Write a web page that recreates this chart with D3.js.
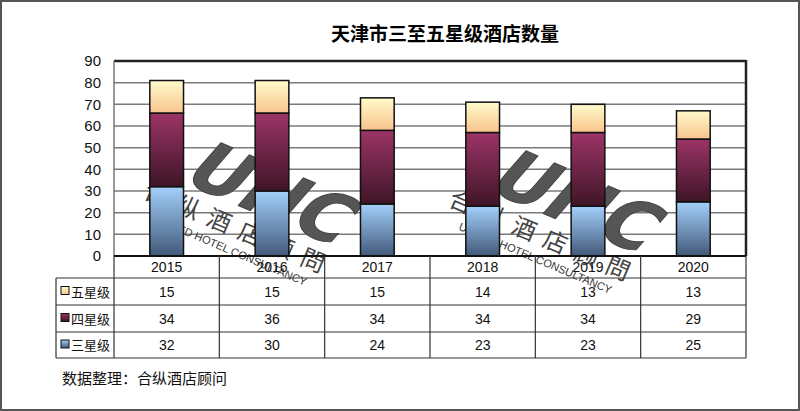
<!DOCTYPE html>
<html>
<head>
<meta charset="utf-8">
<script src="https://cdn.jsdelivr.net/npm/d3@7/dist/d3.min.js"></script>
<style>
  html, body { margin: 0; padding: 0; background: #fff; }
  svg { display: block; font-family: "Noto Sans CJK SC", "Noto Sans", sans-serif; }
</style>
</head>
<body>
<div id="chart"></div>
<script>
// 数据
var years = ["2015", "2016", "2017", "2018", "2019", "2020"];
var star3 = [32, 30, 24, 23, 23, 25];
var star4 = [34, 36, 34, 34, 34, 29];
var star5 = [15, 15, 15, 14, 13, 13];
var seriesNames = ["三星级", "四星级", "五星级"];
var yTicks = [0, 10, 20, 30, 40, 50, 60, 70, 80, 90];

(function() {
var width = 800, height = 411;
var pLeft = 114, pRight = 746, pTop = 61, pBottom = 256;
var tableLeft = 56, rowH = [256, 278, 305, 332, 358];

var svg = d3.select("#chart").append("svg")
    .attr("width", width)
    .attr("height", height);

// 渐变
var defs = svg.append("defs");
var grads = [
    {id: "g3", top: "#a3d0fb", bottom: "#42597a"},
    {id: "g4", top: "#9c3467", bottom: "#3e1526"},
    {id: "g5", top: "#fffbcc", bottom: "#f8c48c"}
];
grads.forEach(function(g) {
    var lg = defs.append("linearGradient")
        .attr("id", g.id).attr("x1", 0).attr("y1", 0).attr("x2", 0).attr("y2", 1);
    lg.append("stop").attr("offset", "0%").attr("stop-color", g.top);
    lg.append("stop").attr("offset", "100%").attr("stop-color", g.bottom);
});

// 外框
svg.append("rect")
    .attr("x", 1).attr("y", 1).attr("width", width - 2).attr("height", height - 2)
    .attr("fill", "#fff").attr("stroke", "#555").attr("stroke-width", 2);

// 标题
svg.append("text")
    .attr("x", 445).attr("y", 41)
    .attr("text-anchor", "middle")
    .attr("font-size", 19).attr("font-weight", "bold")
    .attr("fill", "#000")
    .text("天津市三至五星级酒店数量");

var x = d3.scaleBand().domain(years).range([pLeft, pRight])
    .paddingInner(0.68).paddingOuter(0.34);
var col = d3.scaleBand().domain(years).range([pLeft, pRight]);
var y = d3.scaleLinear().domain([0, 90]).range([pBottom, pTop]);

// 网格线
svg.append("g")
    .selectAll("line")
    .data(yTicks)
    .enter().append("line")
    .attr("x1", pLeft).attr("x2", pRight)
    .attr("y1", function(d) { return y(d); })
    .attr("y2", function(d) { return y(d); })
    .attr("stroke", function(d) { return d === 90 ? "#222" : "#7a7a7a"; })
    .attr("stroke-width", function(d) { return d === 90 ? 2.5 : 1.5; });

// 水印
function watermark(cx, cy) {
    var g = svg.append("g")
        .attr("transform", "translate(" + cx + "," + cy + ") rotate(23)");
    g.append("text")
        .attr("x", 12).attr("y", -8)
        .attr("text-anchor", "middle")
        .attr("font-size", 70).attr("font-weight", "bold")
        .attr("font-family", "DejaVu Sans")
        .attr("transform", "skewX(-18)")
        .attr("fill", "#555").attr("stroke", "#444").attr("stroke-width", 1)
        .text("UHC");
    g.append("text")
        .attr("x", 5).attr("y", 22)
        .attr("text-anchor", "middle")
        .attr("font-size", 24).attr("letter-spacing", 10)
        .attr("fill", "#444")
        .text("合纵酒店顾問");
    g.append("text")
        .attr("x", 5).attr("y", 40)
        .attr("text-anchor", "middle")
        .attr("font-size", 11).attr("font-family", "Liberation Sans")
        .attr("fill", "#333")
        .text("UNITED HOTEL CONSULTANCY");
}
watermark(240, 215);
watermark(545, 223);

// 堆叠柱
var rows = years.map(function(yr, i) {
    return {year: yr, s3: star3[i], s4: star4[i], s5: star5[i]};
});
var stack = d3.stack().keys(["s3", "s4", "s5"]);
var layers = stack(rows);
var fills = ["url(#g3)", "url(#g4)", "url(#g5)"];

svg.append("g")
    .selectAll("g")
    .data(layers)
    .enter().append("g")
    .attr("fill", function(d, i) { return fills[i]; })
    .selectAll("rect")
    .data(function(d) { return d; })
    .enter().append("rect")
    .attr("x", function(d) { return x(d.data.year); })
    .attr("width", x.bandwidth())
    .attr("y", function(d) { return y(d[1]); })
    .attr("height", function(d) { return y(d[0]) - y(d[1]); })
    .attr("stroke", "#111")
    .attr("stroke-width", 1.5);

// 边框
svg.append("line").attr("x1", pLeft).attr("x2", pLeft).attr("y1", pTop).attr("y2", pBottom)
    .attr("stroke", "#777").attr("stroke-width", 1.5);
svg.append("line").attr("x1", pRight).attr("x2", pRight).attr("y1", pTop - 1).attr("y2", pBottom)
    .attr("stroke", "#222").attr("stroke-width", 2.5);
svg.append("line").attr("x1", pLeft).attr("x2", pRight).attr("y1", pBottom).attr("y2", pBottom)
    .attr("stroke", "#111").attr("stroke-width", 2);

// Y 轴
var yAxis = d3.axisLeft(y).tickValues(yTicks).tickSize(0).tickPadding(13);
var ya = svg.append("g").attr("transform", "translate(" + pLeft + ",0)").call(yAxis);
ya.select(".domain").remove();
ya.selectAll("text")
    .attr("font-size", 15)
    .attr("font-family", "Liberation Sans, Arial, sans-serif")
    .attr("fill", "#111");

// 数据表
var table = svg.append("g").attr("stroke", "#333").attr("stroke-width", 1.2);
col.domain().forEach(function(yr) {
    table.append("line")
        .attr("x1", col(yr)).attr("x2", col(yr))
        .attr("y1", rowH[0]).attr("y2", rowH[4]);
});
table.append("line").attr("x1", pRight).attr("x2", pRight).attr("y1", rowH[0]).attr("y2", rowH[4]);
table.append("line").attr("x1", tableLeft).attr("x2", tableLeft).attr("y1", rowH[1]).attr("y2", rowH[4]);
[1, 2, 3, 4].forEach(function(k) {
    table.append("line")
        .attr("x1", tableLeft).attr("x2", pRight)
        .attr("y1", rowH[k]).attr("y2", rowH[k]);
});

// 年份
svg.append("g")
    .selectAll("text")
    .data(years)
    .enter().append("text")
    .attr("x", function(d) { return col(d) + col.bandwidth() / 2; })
    .attr("y", (rowH[0] + rowH[1]) / 2 + 5)
    .attr("text-anchor", "middle")
    .attr("font-size", 14)
    .attr("font-family", "Liberation Sans, Arial, sans-serif")
    .attr("fill", "#111")
    .text(function(d) { return d; });

// 表格行：五星级、四星级、三星级
var tableRows = [
    {name: seriesNames[2], vals: star5, fill: "url(#g5)"},
    {name: seriesNames[1], vals: star4, fill: "url(#g4)"},
    {name: seriesNames[0], vals: star3, fill: "url(#g3)"}
];
tableRows.forEach(function(r, k) {
    var cy = (rowH[k + 1] + rowH[k + 2]) / 2;
    svg.append("rect")
        .attr("x", tableLeft + 5).attr("y", cy - 5)
        .attr("width", 8).attr("height", 8)
        .attr("fill", r.fill).attr("stroke", "#111").attr("stroke-width", 1);
    svg.append("text")
        .attr("x", tableLeft + 15).attr("y", cy + 5)
        .attr("font-size", 13).attr("fill", "#111")
        .text(r.name);
    svg.append("g")
        .selectAll("text")
        .data(r.vals)
        .enter().append("text")
        .attr("x", function(d, i) { return col(years[i]) + col.bandwidth() / 2; })
        .attr("y", cy + 5)
        .attr("text-anchor", "middle")
        .attr("font-size", 14)
        .attr("font-family", "Liberation Sans, Arial, sans-serif")
        .attr("fill", "#111")
        .text(function(d) { return d; });
});

// 数据来源
svg.append("text")
    .attr("x", 62).attr("y", 384)
    .attr("font-size", 15).attr("fill", "#111")
    .text("数据整理：合纵酒店顾问");
})();
</script>
</body>
</html>
